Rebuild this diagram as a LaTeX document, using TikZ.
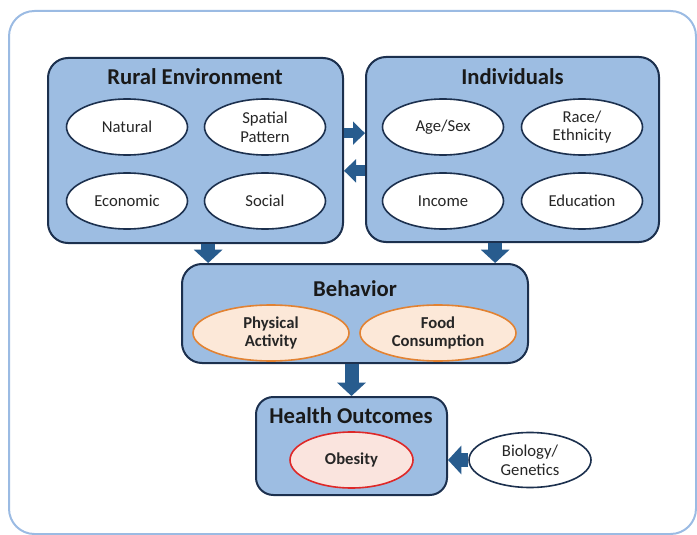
\documentclass[tikz,border=0pt]{standalone}
\usepackage{fontspec}
\setmainfont{Carlito}
\usetikzlibrary{arrows.meta,shapes.geometric}
\definecolor{framecol}{RGB}{155,187,227}
\definecolor{boxfill}{RGB}{157,189,226}
\definecolor{boxline}{RGB}{28,48,78}
\definecolor{arrowcol}{RGB}{40,92,142}
\definecolor{behavfill}{RGB}{252,232,216}
\definecolor{behavline}{RGB}{226,130,50}
\definecolor{obesefill}{RGB}{250,228,222}
\definecolor{obeseline}{RGB}{222,40,40}
\definecolor{textcol}{RGB}{38,38,38}

\begin{document}
\begin{tikzpicture}[x=0.75pt,y=-0.75pt,
  group node/.style={rectangle,rounded corners=15pt,draw=boxline,fill=boxfill,line width=1.5pt,inner sep=0pt},
  title node/.style={anchor=base,font=\fontsize{17}{20}\selectfont\bfseries,text=black!90},
  item node/.style={ellipse,draw=boxline,fill=white,line width=1.2pt,inner sep=0pt,align=center,
    minimum width=90.75pt,minimum height=42pt,text=textcol,font=\fontsize{12.5}{14}\selectfont},
  behav node/.style={item node,draw=behavline,fill=behavfill,minimum width=117pt,font=\fontsize{12.5}{14}\selectfont\bfseries},
  big arrow/.style={draw=arrowcol,line width=10.5pt,-{Triangle[width=21pt,length=10pt]}},
  small arrow/.style={draw=arrowcol,line width=8pt,-{Triangle[width=17pt,length=9pt]}}]
\useasboundingbox (0,0) rectangle (697,535);
\draw[framecol,line width=1.5pt,rounded corners=19pt] (9,11) rectangle (696,534);

% the four groups
\node[group node,minimum width=221.25pt,minimum height=138.75pt] (rural) at (195.5,150.5) {};
\node[group node,minimum width=219.75pt,minimum height=138.75pt] (indiv) at (512.5,149.5) {};
\node[group node,minimum width=259.5pt,minimum height=74.25pt] (behav) at (355,313.5) {};
\node[group node,minimum width=143.25pt,minimum height=73.5pt,rounded corners=13pt] (health) at (351.5,446) {};

\node[title node] (ruraltitle) at (195,85) {Rural Environment};
\node[title node] (indivtitle) at (512.5,85) {Individuals};
\node[title node] (behavtitle) at (355,296) {Behavior};
\node[title node] (healthtitle) at (351,423) {Health Outcomes};

\begin{scope}
\node[item node] (natural) at (127,127) {Natural};
\node[item node] (spatial) at (265,127) {Spatial\\Pattern};
\node[item node] (economic) at (127,201) {Economic};
\node[item node] (social) at (265,201) {Social};
\node[item node] (agesex) at (443,127) {Age/Sex};
\node[item node] (race) at (582,127) {Race/\\Ethnicity};
\node[item node] (income) at (443,201) {Income};
\node[item node] (education) at (582,201) {Education};
\end{scope}

\node[behav node] (physical) at (271,333) {Physical\\Activity};
\node[behav node] (food) at (438,333) {Food\\Consumption};
\node[behav node,draw=obeseline,fill=obesefill,minimum width=92.25pt] (obesity) at (351.5,460) {Obesity};
\node[item node,minimum width=91.5pt,minimum height=41.25pt] (biology) at (530,460) {Biology/\\Genetics};

% connectors
\draw[small arrow] ([yshift=13pt]rural.east) -- ([yshift=13pt]rural.east -| indiv.west);
\draw[small arrow] ([yshift=-16pt]indiv.west) -- ([yshift=-16pt]indiv.west -| rural.east);
\draw[big arrow] ([xshift=9.5pt]rural.south) -- ([xshift=9.5pt]rural.south |- behav.north);
\draw[big arrow] ([xshift=-13pt]indiv.south) -- ([xshift=-13pt]indiv.south |- behav.north);
\draw[big arrow] (behav.south -| health.north) -- (health.north);
\draw[big arrow] (biology.west) -- (biology.west -| health.east);
\end{tikzpicture}
\end{document}
